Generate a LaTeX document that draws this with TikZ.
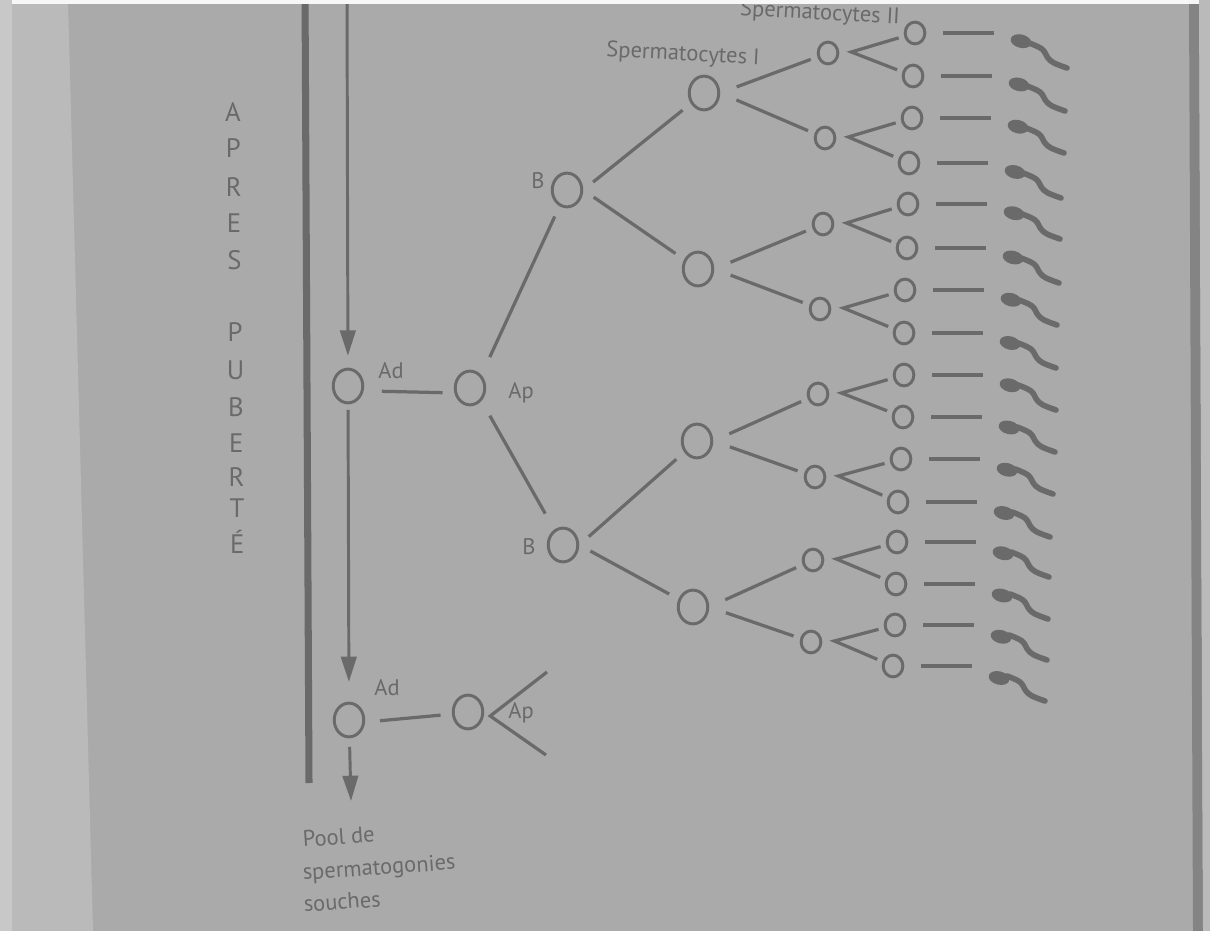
\documentclass[tikz,border=0pt]{standalone}
\usepackage{fontspec}
\setmainfont{PT Sans}
\usetikzlibrary{shapes.geometric,arrows.meta,calc}

\definecolor{page}{RGB}{170,170,170}
\definecolor{gutter}{RGB}{186,186,186}
\definecolor{rim}{RGB}{200,200,200}
\definecolor{spine}{RGB}{132,132,132}
\definecolor{ink}{RGB}{106,106,106}

\tikzset{
  bigcell/.style={ellipse, draw=ink, line width=2.1pt, minimum width=21pt, minimum height=24pt, inner sep=0pt},
  smallcell/.style={ellipse, draw=ink, line width=2.1pt, minimum width=14pt, minimum height=15.5pt, inner sep=0pt},
  sperm head/.style={ellipse, fill=ink, minimum width=15pt, minimum height=9.5pt, inner sep=0pt, rotate=-14},
  tailline/.style={draw=ink, line width=4pt, line cap=round, line join=round},
  link/.style={draw=ink, line width=2.3pt},
  feed/.style={draw=ink, line width=2.1pt, -{Triangle[length=18pt,width=11pt]}},
  lbl/.style={text=ink, inner sep=0pt, font=\fontsize{16}{21}\selectfont},
  vletter/.style={text=ink, inner sep=0pt, font=\fontsize{19}{22}\selectfont},
}

\begin{document}
\begin{tikzpicture}[x=0.025cm, y=-0.025cm]
\useasboundingbox (0,0) rectangle (1210,931);

% page, gutter and book edge
\fill[page] (0,0) rectangle (1210,931);
\fill[gutter] (0,0) -- (68,0) -- (93,931) -- (0,931) -- cycle;
\fill[rim] (0,0) rectangle (12,931);
\fill[spine] (1189,0) -- (1199,0) -- (1203,931) -- (1193,931) -- cycle;
\fill[gutter] (1199,0) -- (1210,0) -- (1210,931) -- (1203,931) -- cycle;

% vertical caption
\foreach \c/\yy [count=\n] in {A/112, P/148, R/187, E/223, S/260, P/332, U/370, B/407, E/443, R/477, T/508, É/542}
  \node[vletter] (letter\n) at ({233+(\yy-112)*0.01},\yy) {\c};

% heavy bar
\draw[ink, line width=5pt] (305,-10) -- (309,783);

% spermatogonia
\node[bigcell] (ad1) at (348,386) {};
\node[bigcell] (ap1) at (470,388) {};
\node[bigcell] (b1) at (567,190) {};
\node[bigcell] (b2) at (563,545) {};
\node[bigcell] (ad2) at (349,720) {};
\node[bigcell] (ap2) at (468,712) {};

% spermatocytes I
\node[bigcell] (sa) at (704,93) {};
\node[bigcell] (sb) at (698,269) {};
\node[bigcell] (sc) at (697,441) {};
\node[bigcell] (sd) at (693,607) {};

% spermatocytes II
\foreach \k/\x/\y in {1/828/53, 2/825/138, 3/823/224, 4/820/309, 5/818/394, 6/815/477, 7/813/560, 8/811/642}
  \node[smallcell] (m\k) at (\x,\y) {};

% spermatids, dashes and spermatozoa
\foreach \i/\x/\y in {1/915/33, 2/913/76, 3/912/118, 4/909/163, 5/908/204, 6/907/248, 7/905/290, 8/904/333,
                      9/904/375, 10/903/417, 11/901/459, 12/898/502, 13/897/542, 14/896/584, 15/895/625, 16/893/666}{
  \node[smallcell] (t\i) at (\x,\y) {};
  \node[sperm head] (h\i) at (\x+106,{\y+8+\y*0.006}) {};
  \draw[tailline] plot[smooth, tension=0.6] coordinates
    {(\x+114,\y+10) (\x+127,\y+16) (\x+133,\y+25) (\x+139,\y+30) (\x+152,\y+35)};
  \draw[link, shorten <=12pt, shorten >=12pt] (t\i.east) -- (t\i.east -| h\i.west);
}

% labels
\node[lbl] (adlab1) at (391,371) {Ad};
\node[lbl] (aplab1) at (521,393) {Ap};
\node[lbl] (blab1) at (538,181) {B};
\node[lbl] (blab2) at (529,547) {B};
\node[lbl] (adlab2) at (387,688) {Ad};
\node[lbl] (aplab2) at (521,713) {Ap};
\node[lbl, rotate=-3] (sc1lab) at (683,55) {Spermatocytes I};
\node[lbl, rotate=-3] (sc2lab) at (820,14) {Spermatocytes II};
\node[lbl, rotate=4, anchor=base west] (pool1) at (303,847) {Pool de};
\node[lbl, rotate=4, anchor=base west] (pool2) at (303,880) {spermatogonies};
\node[lbl, rotate=4, anchor=base west] (pool3) at (304,912) {souches};

% renewal arrows
\coordinate (feedtop) at (347,-10);
\coordinate (poolarrow) at (351,801);
\draw[feed, shorten >=8.5pt] (feedtop) -- (ad1);
\draw[feed, shorten <=4pt, shorten >=14pt] (ad1) -- (ad2);
\draw[feed, shorten <=6pt] (ad2) -- (poolarrow);

% divisions of the spermatogonia
\draw[link, shorten <=12.5pt, shorten >=8pt, transform canvas={yshift=-3.5pt}] (ad1.east) -- (ap1.west);
\draw[link, shorten <=10.5pt, shorten >=8pt, transform canvas={yshift=-1.5pt}] (ad2.east) -- (ap2.west);
\draw[link, shorten <=14pt, shorten >=8pt] (ap1.north east) -- (b1);
\draw[link, shorten <=12pt, shorten >=13pt] (ap1.south east) -- (b2);
\coordinate (apv) at ($(ap2.east)+(6,4)$);
\coordinate (apup) at (547,672);
\coordinate (apdown) at (546,755);
\draw[link] (apup) -- (apv) -- (apdown);

% B to spermatocytes I
\foreach \p/\q in {b1/sa, b1/sb, b2/sc, b2/sd}
  \draw[link, shorten <=9pt, shorten >=7.5pt] (\p.east) -- (\q);

% first meiotic division
\foreach \p/\q in {sa/m1, sa/m2, sb/m3, sb/m4, sc/m5, sc/m6, sd/m7, sd/m8}
  \draw[link, shorten <=12.5pt, shorten >=5pt] (\p.east) -- (\q);

% second meiotic division
\foreach \k/\u/\l in {1/1/2, 2/3/4, 3/5/6, 4/7/8, 5/9/10, 6/11/12, 7/13/14, 8/15/16}{
  \coordinate (v\k) at ($(m\k.east)+(12,-1)$);
  \draw[link, shorten <=4pt, shorten >=4pt] (t\u) -- (v\k) -- (t\l);
}

% light strip at the top edge
\fill[white!90!page] (12,0) rectangle (1199,4);
\end{tikzpicture}
\end{document}
